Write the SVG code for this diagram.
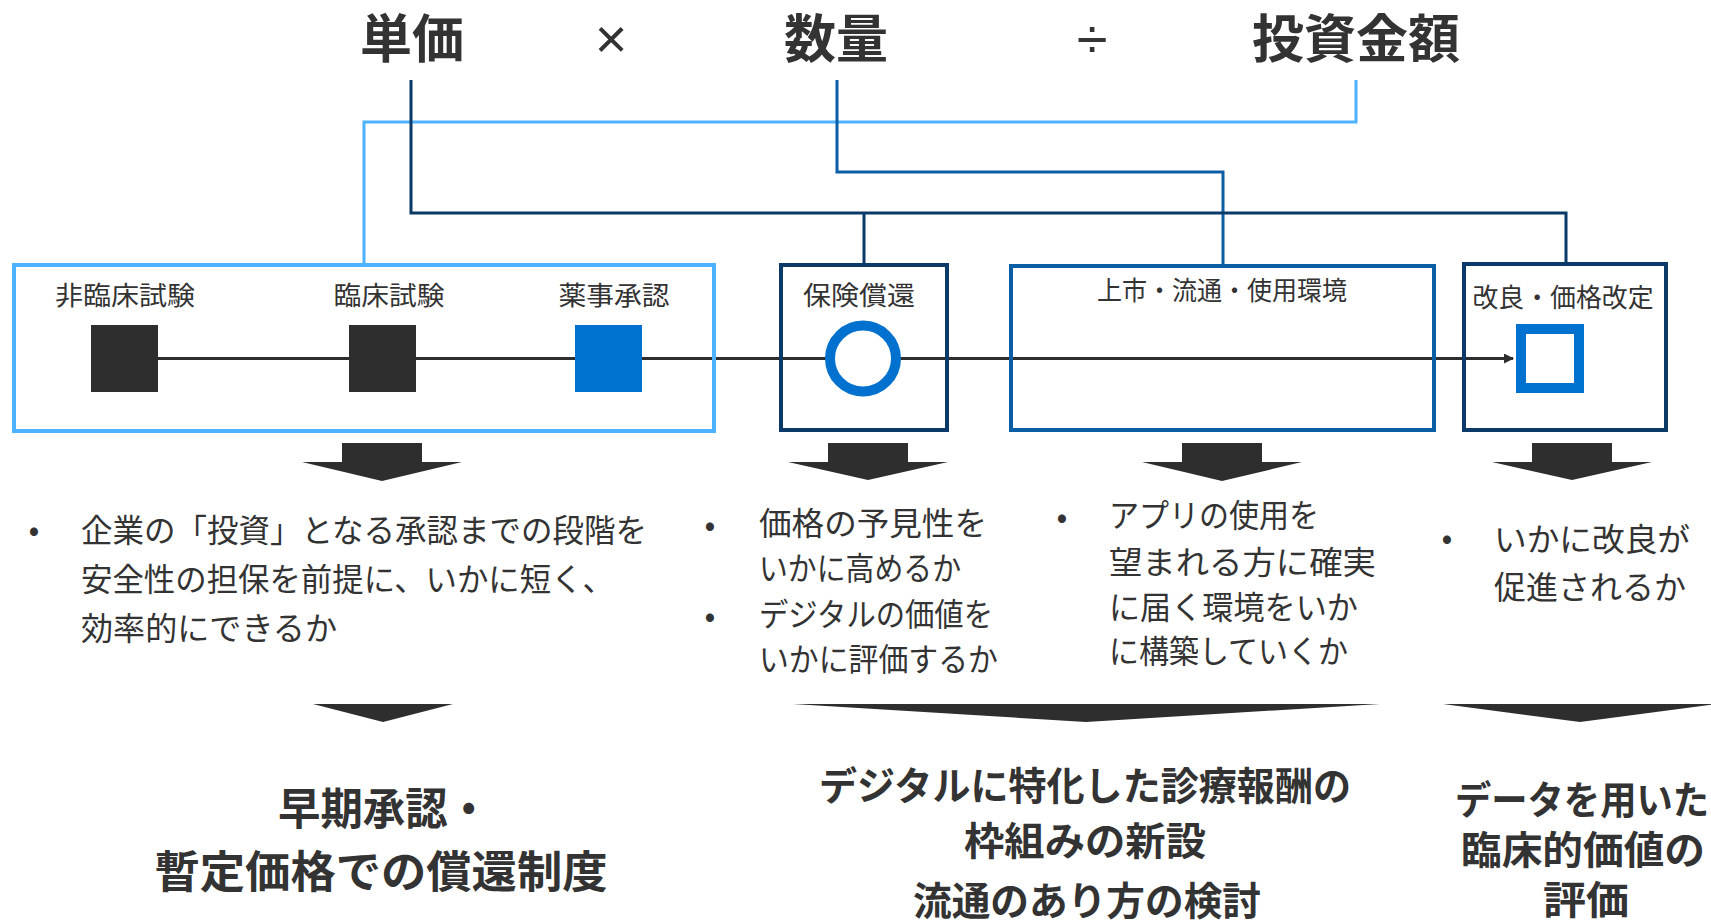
<svg xmlns="http://www.w3.org/2000/svg" width="1711" height="921" viewBox="0 0 1711 921">
<style>
text{font-family:"Noto Sans CJK JP","Noto Sans",sans-serif;fill:#333333}
.title{font-size:52px;font-weight:700;text-anchor:middle}
.op{font-size:56px;text-anchor:middle;font-family:"Liberation Sans","Noto Sans CJK JP",sans-serif}
.lbl{font-size:26px;text-anchor:middle}
.body{font-size:32px}
.bul{font-size:32px;text-anchor:middle}
.res{font-weight:700;text-anchor:middle}
.lb{fill:none;stroke:#4fb2ff;stroke-width:4}
.nv{fill:none;stroke:#0b3a68;stroke-width:4}
.md{fill:none;stroke:#0b5ea6;stroke-width:4}
.cl{fill:none;stroke-width:3}
.arr{fill:#2e2e2e}
</style>
<defs>
<marker id="ah" markerWidth="10" markerHeight="10" refX="9" refY="5" orient="auto" markerUnits="userSpaceOnUse" viewBox="0 0 10 10">
<path d="M0,0 L10,5 L0,10 z" fill="#2e2e2e"/>
</marker>
</defs>

<g id="formula">
<text class="title" x="412" y="58">単価</text>
<text class="op" x="611" y="58">×</text>
<text class="title" x="836" y="58">数量</text>
<text class="op" x="1092" y="58">÷</text>
<text class="title" x="1356" y="58">投資金額</text>
</g>

<g id="connectors">
<polyline class="cl" stroke="#4fb2ff" points="1356,80 1356,122 364,122 364,263"/>
<polyline class="cl" stroke="#0b5ea6" points="837,80 837,172 1223,172 1223,264"/>
<polyline class="cl" stroke="#0b3a68" points="411,80 411,213 1566,213 1566,262"/>
<polyline class="cl" stroke="#0b3a68" points="864,213 864,263"/>
<line x1="124" y1="358.5" x2="1513" y2="358.5" stroke="#2e2e2e" stroke-width="3" marker-end="url(#ah)"/>
</g>

<g id="box-approval">
<rect class="lb" x="14" y="265" width="700" height="166"/>
<text class="lbl" x="125" y="305" textLength="140" lengthAdjust="spacingAndGlyphs">非臨床試験</text>
<text class="lbl" x="389" y="305" textLength="111" lengthAdjust="spacingAndGlyphs">臨床試験</text>
<text class="lbl" x="614" y="305" textLength="111" lengthAdjust="spacingAndGlyphs">薬事承認</text>
<rect x="91" y="325" width="67" height="67" fill="#2e2e2e"/>
<rect x="349" y="325" width="67" height="67" fill="#2e2e2e"/>
<rect x="575" y="325" width="67" height="67" fill="#0071ce"/>
</g>

<g id="box-reimbursement">
<rect class="nv" x="781" y="265" width="166" height="165"/>
<text class="lbl" x="859" y="305" textLength="112" lengthAdjust="spacingAndGlyphs">保険償還</text>
<circle cx="863" cy="358.5" r="33" fill="#ffffff" stroke="#0071ce" stroke-width="10"/>
</g>

<g id="box-market">
<rect class="md" x="1011" y="266" width="423" height="164"/>
<text class="lbl" x="1222" y="300" textLength="250" lengthAdjust="spacingAndGlyphs">上市・流通・使用環境</text>
</g>

<g id="box-improve">
<rect class="nv" x="1464" y="264" width="202" height="166"/>
<text class="lbl" x="1563" y="307" textLength="181" lengthAdjust="spacingAndGlyphs">改良・価格改定</text>
<rect x="1521" y="329" width="58" height="59" fill="#ffffff" stroke="#0071ce" stroke-width="10"/>
</g>

<g id="arrows">
<polygon class="arr" points="342,443 422,443 422,462 462,462 382,481 302,462 342,462"/>
<polygon class="arr" points="828,443 908,443 908,462 948,462 868,480 788,462 828,462"/>
<polygon class="arr" points="1182,443 1262,443 1262,462 1302,462 1222,481 1142,462 1182,462"/>
<polygon class="arr" points="1532,443 1612,443 1612,462 1652,462 1572,480 1492,462 1532,462"/>
<polygon class="arr" points="313,704 453,704 383,722"/>
<polygon class="arr" points="793,704 1380,704 1086,722"/>
<polygon class="arr" points="1443,704 1717,704 1580,722"/>
</g>

<g id="text-approval">
<text class="bul" x="34" y="541">•</text>
<text class="body" x="81" y="542" textLength="566" lengthAdjust="spacingAndGlyphs">企業の「投資」となる承認までの段階を</text>
<text class="body" x="81" y="591" textLength="533" lengthAdjust="spacingAndGlyphs">安全性の担保を前提に、いかに短く、</text>
<text class="body" x="81" y="640" textLength="256" lengthAdjust="spacingAndGlyphs">効率的にできるか</text>
</g>

<g id="text-reimbursement">
<text class="bul" x="710" y="536">•</text>
<text class="body" x="759" y="535" textLength="228" lengthAdjust="spacingAndGlyphs">価格の予見性を</text>
<text class="body" x="759" y="580" textLength="202" lengthAdjust="spacingAndGlyphs">いかに高めるか</text>
<text class="bul" x="710" y="627">•</text>
<text class="body" x="759" y="626" textLength="234" lengthAdjust="spacingAndGlyphs">デジタルの価値を</text>
<text class="body" x="759" y="671" textLength="239" lengthAdjust="spacingAndGlyphs">いかに評価するか</text>
</g>

<g id="text-market">
<text class="bul" x="1062" y="528">•</text>
<text class="body" x="1109" y="527" textLength="210" lengthAdjust="spacingAndGlyphs">アプリの使用を</text>
<text class="body" x="1109" y="574" textLength="267" lengthAdjust="spacingAndGlyphs">望まれる方に確実</text>
<text class="body" x="1109" y="619" textLength="249" lengthAdjust="spacingAndGlyphs">に届く環境をいか</text>
<text class="body" x="1109" y="663" textLength="239" lengthAdjust="spacingAndGlyphs">に構築していくか</text>
</g>

<g id="text-improve">
<text class="bul" x="1447" y="549">•</text>
<text class="body" x="1494" y="551" textLength="196" lengthAdjust="spacingAndGlyphs">いかに改良が</text>
<text class="body" x="1494" y="599" textLength="192" lengthAdjust="spacingAndGlyphs">促進されるか</text>
</g>

<g id="result-approval">
<text class="res" x="384" y="825" font-size="44" textLength="212" lengthAdjust="spacingAndGlyphs">早期承認・</text>
<text class="res" x="381" y="888" font-size="44" textLength="453" lengthAdjust="spacingAndGlyphs">暫定価格での償還制度</text>
</g>

<g id="result-digital">
<text class="res" x="1085" y="800" font-size="39" textLength="532" lengthAdjust="spacingAndGlyphs">デジタルに特化した診療報酬の</text>
<text class="res" x="1085" y="855" font-size="39" textLength="242" lengthAdjust="spacingAndGlyphs">枠組みの新設</text>
<text class="res" x="1087" y="915" font-size="39" textLength="348" lengthAdjust="spacingAndGlyphs">流通のあり方の検討</text>
</g>

<g id="result-data">
<text class="res" x="1582" y="814" font-size="39" textLength="254" lengthAdjust="spacingAndGlyphs">データを用いた</text>
<text class="res" x="1583" y="864" font-size="39" textLength="244" lengthAdjust="spacingAndGlyphs">臨床的価値の</text>
<text class="res" x="1586" y="914" font-size="39" textLength="86" lengthAdjust="spacingAndGlyphs">評価</text>
</g>
</svg>
